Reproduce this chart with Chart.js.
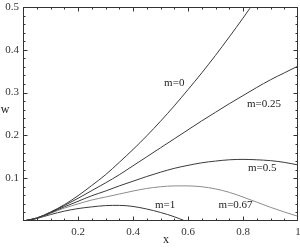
<!DOCTYPE html>
<html>
<head>
<meta charset="utf-8">
<script src="https://cdn.jsdelivr.net/npm/chart.js@4.4.1/dist/chart.umd.min.js"></script>
<style>
  html, body { margin: 0; padding: 0; background: #fff; }
  canvas { display: block; }
</style>
</head>
<body>
<canvas id="w-chart" width="300" height="249"></canvas>
<script>
// x grid shared by most curves
const xs = [0, 0.05, 0.1, 0.15, 0.2, 0.25, 0.3, 0.35, 0.4, 0.45, 0.5,
            0.55, 0.6, 0.65, 0.7, 0.75, 0.8, 0.85, 0.9, 0.95, 1];

// w values
const wM0   = [0, 0.007, 0.021, 0.038, 0.059, 0.083, 0.108, 0.137, 0.167, 0.199, 0.233,
               0.269, 0.307, 0.346, 0.387, 0.430, 0.474, 0.520];
const wM025 = [0, 0.007, 0.020, 0.036, 0.053, 0.071, 0.089, 0.108, 0.129, 0.150, 0.171,
               0.192, 0.213, 0.234, 0.254, 0.274, 0.293, 0.312, 0.330, 0.346, 0.362];
const wM05  = [0, 0.006, 0.019, 0.033, 0.046, 0.059, 0.070, 0.082, 0.093, 0.104, 0.114,
               0.123, 0.130, 0.136, 0.140, 0.143, 0.144, 0.143, 0.141, 0.137, 0.131];
const wM067 = [0, 0.006, 0.018, 0.030, 0.040, 0.049, 0.056, 0.063, 0.070, 0.076, 0.080,
               0.082, 0.082, 0.080, 0.075, 0.067, 0.056, 0.044, 0.032, 0.021, 0.011];
const xsM1  = [0, 0.05, 0.1, 0.15, 0.2, 0.25, 0.3, 0.35, 0.4, 0.45, 0.5, 0.55, 0.59];
const wM1   = [0, 0.006, 0.015, 0.023, 0.029, 0.033, 0.036, 0.0365, 0.034, 0.028, 0.020, 0.010, 0];

// curve labels: text and data position
const curveLabels = ['m=0', 'm=0.25', 'm=0.5', 'm=0.67', 'm=1'];
const curveLabelX = [0.55, 0.876, 0.87, 0.773, 0.517];
const curveLabelW = [0.322, 0.274, 0.124, 0.037, 0.037];

// ticks
const xMajor = [0.2, 0.4, 0.6, 0.8, 1];
const yMajor = [0.1, 0.2, 0.3, 0.4, 0.5];

const FONT = "'Liberation Serif', 'DejaVu Serif', serif";
const INK = '#333';

function pts(xv, yv) {
  return yv.map((y, i) => ({ x: xv[i], y: y }));
}

function curve(label, data, color) {
  return {
    label: label,
    data: data,
    borderColor: color,
    borderWidth: 1,
    pointRadius: 0,
    cubicInterpolationMode: 'monotone',
    fill: false
  };
}

// frame, inward ticks, axis names and curve labels
const framePlugin = {
  id: 'frame',
  afterDatasetsDraw(chart) {
    const { ctx, chartArea: a, scales } = chart;
    const sx = scales.x, sy = scales.y;
    ctx.save();
    ctx.strokeStyle = INK;
    ctx.lineWidth = 1;
    ctx.strokeRect(a.left + 0.5, a.top + 0.5, a.right - a.left - 1, a.bottom - a.top - 1);

    ctx.beginPath();
    for (let i = 1; i < 20; i++) {
      const v = i * 0.05;
      const px = Math.round(sx.getPixelForValue(v)) + 0.5;
      const len = (i % 4 === 0) ? 4.5 : 2.5;
      ctx.moveTo(px, a.bottom); ctx.lineTo(px, a.bottom - len);
      ctx.moveTo(px, a.top); ctx.lineTo(px, a.top + len);
    }
    for (let i = 1; i < 25; i++) {
      const v = i * 0.02;
      const py = Math.round(sy.getPixelForValue(v)) + 0.5;
      const len = (i % 5 === 0) ? 4.5 : 2.5;
      ctx.moveTo(a.left, py); ctx.lineTo(a.left + len, py);
      ctx.moveTo(a.right, py); ctx.lineTo(a.right - len, py);
    }
    ctx.stroke();

    ctx.fillStyle = '#222';
    ctx.font = '11px ' + FONT;
    ctx.textAlign = 'center';
    ctx.textBaseline = 'middle';
    curveLabels.forEach((t, i) => {
      ctx.fillText(t, sx.getPixelForValue(curveLabelX[i]), sy.getPixelForValue(curveLabelW[i]));
    });

    ctx.font = '12px ' + FONT;
    ctx.fillText('x', sx.getPixelForValue(0.52), a.bottom + 19);
    ctx.fillText('w', 5, sy.getPixelForValue(0.259));
    ctx.restore();
  }
};

new Chart(document.getElementById('w-chart'), {
  type: 'line',
  data: {
    datasets: [
      curve('m=0', pts(xs, wM0), '#3a3a3a'),
      curve('m=0.25', pts(xs, wM025), '#3a3a3a'),
      curve('m=0.5', pts(xs, wM05), '#3a3a3a'),
      curve('m=0.67', pts(xs, wM067), '#8c8c8c'),
      curve('m=1', pts(xsM1, wM1), '#3a3a3a')
    ]
  },
  options: {
    responsive: false,
    animation: false,
    devicePixelRatio: 1,
    layout: { padding: { top: 7, right: 2, left: 0, bottom: 0 } },
    plugins: {
      legend: { display: false },
      tooltip: { enabled: false }
    },
    scales: {
      x: {
        type: 'linear',
        min: 0,
        max: 1,
        grid: { display: false, drawTicks: false },
        border: { display: false },
        afterBuildTicks: s => { s.ticks = xMajor.map(v => ({ value: v })); },
        afterFit: s => { s.height = 28; s.paddingLeft = 0; s.paddingRight = 0; },
        ticks: {
          padding: 5,
          maxRotation: 0,
          autoSkip: false,
          color: INK,
          font: { family: FONT, size: 11 },
          callback: v => String(v)
        }
      },
      y: {
        type: 'linear',
        min: 0,
        max: 0.5,
        grid: { display: false, drawTicks: false },
        border: { display: false },
        afterBuildTicks: s => { s.ticks = yMajor.map(v => ({ value: v })); },
        afterFit: s => { s.width = 23; s.paddingTop = 0; s.paddingBottom = 0; },
        ticks: {
          padding: 4,
          autoSkip: false,
          color: INK,
          font: { family: FONT, size: 11 },
          callback: v => String(v)
        }
      }
    }
  },
  plugins: [framePlugin]
});
</script>
</body>
</html>
